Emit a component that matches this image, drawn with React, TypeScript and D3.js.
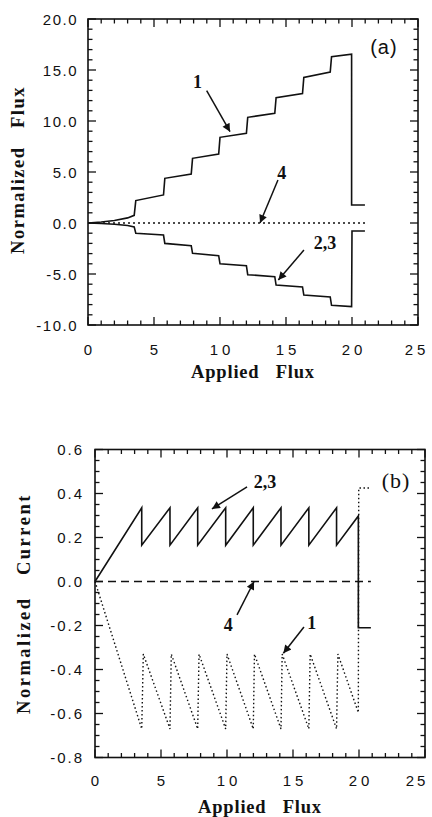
import * as d3 from "d3";

// ---- panel (a): normalized flux vs applied flux ----
const fluxCurve1X = [0, 1, 2, 3, 3.5, 3.62, 5.72, 5.82, 7.82, 7.92, 9.9, 10.0, 12.0, 12.1, 14.15, 14.25, 16.25, 16.35, 18.35, 18.45, 19.97, 19.97, 20.98];
const fluxCurve1Y = [0, 0.1, 0.25, 0.5, 0.75, 2.2, 2.75, 4.38, 4.8, 6.34, 6.76, 8.4, 8.8, 10.36, 10.75, 12.28, 12.7, 14.28, 14.8, 16.3, 16.55, 1.76, 1.76];

const fluxCurve23X = [0, 1, 2, 3, 3.5, 3.62, 5.72, 5.82, 7.82, 7.92, 9.9, 10.0, 12.0, 12.1, 14.15, 14.25, 16.25, 16.35, 18.35, 18.45, 19.97, 20.0, 20.98];
const fluxCurve23Y = [0, -0.05, -0.12, -0.25, -0.38, -1.0, -1.18, -2.0, -2.22, -2.97, -3.2, -4.0, -4.18, -5.07, -5.26, -6.08, -6.27, -7.06, -7.25, -8.07, -8.2, -0.78, -0.78];

const fluxCurve4X = [0, 21];
const fluxCurve4Y = [0, 0];

const fluxTicksY = [-10, -5, 0, 5, 10, 15, 20];
const fluxTicksX = [0, 5, 10, 15, 20, 25];

// ---- panel (b): normalized current vs applied flux ----
const curCurve23X = [0, 3.54, 3.54, 5.68, 5.68, 7.78, 7.78, 9.9, 9.9, 11.99, 11.99, 14.09, 14.09, 16.2, 16.2, 18.3, 18.3, 19.95, 19.95, 20.9];
const curCurve23Y = [0, 0.335, 0.165, 0.335, 0.165, 0.335, 0.165, 0.335, 0.165, 0.335, 0.165, 0.335, 0.165, 0.335, 0.165, 0.335, 0.165, 0.298, -0.21, -0.21];

const curCurve1X = [0, 3.54, 3.66, 5.68, 5.78, 7.78, 7.88, 9.9, 10.0, 11.99, 12.08, 14.09, 14.18, 16.2, 16.3, 18.3, 18.4, 19.95, 19.98, 20.9];
const curCurve1Y = [0, -0.67, -0.33, -0.67, -0.33, -0.67, -0.33, -0.67, -0.33, -0.67, -0.33, -0.67, -0.33, -0.67, -0.33, -0.67, -0.33, -0.596, 0.425, 0.425];

const curCurve4X = [0, 20.9];
const curCurve4Y = [0, 0];

const curTicksY = [-0.8, -0.6, -0.4, -0.2, 0, 0.2, 0.4, 0.6];
const curTicksX = [0, 5, 10, 15, 20, 25];

const INK = "#111";
const SERIF = "'Liberation Serif', 'Times New Roman', serif";
const SANS = "'Liberation Sans', Arial, sans-serif";

type Pt = [number, number];
const zipPts = (xs: number[], ys: number[]): Pt[] => xs.map((x, i) => [x, ys[i]]);

function Frame({ x, y, w, h, minorX, minorY, majorX, majorY }: any) {
  const out: any[] = [];
  const tick = (key: string, x1: number, y1: number, x2: number, y2: number) =>
    out.push(<line key={key} x1={x1} y1={y1} x2={x2} y2={y2} stroke={INK} strokeWidth={1.3} />);
  minorX.forEach((v: number, i: number) => {
    const big = majorX.some((m: number) => Math.abs(m - v) < 1e-6);
    const len = big ? 8 : 4.5;
    const px = x(v);
    tick("bx" + i, px, y.range()[0], px, y.range()[0] - len);
    tick("tx" + i, px, y.range()[1], px, y.range()[1] + len);
  });
  minorY.forEach((v: number, i: number) => {
    const big = majorY.some((m: number) => Math.abs(m - v) < 1e-6);
    const len = big ? 8 : 4.5;
    const py = y(v);
    tick("ly" + i, x.range()[0], py, x.range()[0] + len, py);
    tick("ry" + i, x.range()[1], py, x.range()[1] - len, py);
  });
  return (
    <g>
      <rect x={x.range()[0]} y={y.range()[1]} width={w} height={h} fill="none" stroke={INK} strokeWidth={1.6} />
      {out}
    </g>
  );
}

function Arrow({ x1, y1, x2, y2, id }: any) {
  return <line x1={x1} y1={y1} x2={x2} y2={y2} stroke={INK} strokeWidth={1.5} markerEnd={`url(#${id})`} />;
}

export default function App() {
  // panel (a) geometry
  const aLeft = 88, aTop = 19, aW = 330, aH = 306;
  const xa = d3.scaleLinear().domain([0, 25]).range([aLeft, aLeft + aW]);
  const ya = d3.scaleLinear().domain([-10, 20]).range([aTop + aH, aTop]);
  const lineA = d3.line<Pt>().x((d) => xa(d[0])).y((d) => ya(d[1]));

  // panel (b) geometry
  const bLeft = 95, bTop = 449.5, bW = 330, bH = 308;
  const xb = d3.scaleLinear().domain([0, 25]).range([bLeft, bLeft + bW]);
  const yb = d3.scaleLinear().domain([-0.8, 0.6]).range([bTop + bH, bTop]);
  const lineB = d3.line<Pt>().x((d) => xb(d[0])).y((d) => yb(d[1]));

  const minorXa = d3.range(0, 25.01, 1);
  const minorYa = d3.range(-10, 20.01, 1);
  const minorXb = d3.range(0, 25.01, 1);
  const minorYb = d3.range(-16, 12.01, 1).map((k) => k * 0.05);

  const numLabel = { fontFamily: SANS, fontSize: 15, fill: INK };
  const titleStyle: any = { fontFamily: SERIF, fontSize: 18.5, fontWeight: "bold", fill: INK, whiteSpace: "pre" };
  const noteStyle: any = { fontFamily: SERIF, fontSize: 18, fontWeight: "bold", fill: INK };

  return (
    <svg width={432} height={817} style={{ position: "absolute", left: 0, top: 0, background: "#fff" }}>
      <defs>
        <marker id="ah" viewBox="0 0 10 10" refX="10" refY="5" markerWidth="10" markerHeight="8" markerUnits="userSpaceOnUse" orient="auto">
          <path d="M0,0 L10,5 L0,10 z" fill={INK} />
        </marker>
      </defs>

      {/* ---------- panel (a) ---------- */}
      <Frame x={xa} y={ya} w={aW} h={aH} minorX={minorXa} minorY={minorYa} majorX={fluxTicksX} majorY={fluxTicksY} />
      {fluxTicksY.map((v) => (
        <text key={"ya" + v} x={aLeft - 10} y={ya(v) + 5.5} textAnchor="end" letterSpacing={1.5} style={numLabel}>
          {v.toFixed(1)}
        </text>
      ))}
      {fluxTicksX.map((v) => (
        <text key={"xa" + v} x={v === 25 ? xa(v) - 1 : xa(v) + 2} y={ya(-10) + 30} textAnchor="middle" letterSpacing={4} style={numLabel}>
          {v}
        </text>
      ))}
      <path d={lineA(zipPts(fluxCurve1X, fluxCurve1Y)) || ""} fill="none" stroke={INK} strokeWidth={1.6} />
      <path d={lineA(zipPts(fluxCurve23X, fluxCurve23Y)) || ""} fill="none" stroke={INK} strokeWidth={1.6} />
      <path d={lineA(zipPts(fluxCurve4X, fluxCurve4Y)) || ""} fill="none" stroke={INK} strokeWidth={1.3} strokeDasharray="2,3" />

      <text x={xa(8.29)} y={ya(13.85) + 6} textAnchor="middle" style={noteStyle}>1</text>
      <Arrow id="ah" x1={xa(8.99)} y1={ya(12.97)} x2={xa(10.76)} y2={ya(8.95)} />
      <text x={xa(14.67)} y={ya(4.87) + 6} textAnchor="middle" style={noteStyle}>4</text>
      <Arrow id="ah" x1={xa(14.39)} y1={ya(4.22)} x2={xa(13.03)} y2={ya(0)} />
      <text x={xa(17.95)} y={ya(-1.99) + 6} textAnchor="middle" style={noteStyle}>2,3</text>
      <Arrow id="ah" x1={xa(16.36)} y1={ya(-2.65)} x2={xa(14.42)} y2={ya(-5.59)} />
      <text x={xa(22.42)} y={ya(17.25) + 7} textAnchor="middle" letterSpacing={1} style={{ fontFamily: SANS, fontSize: 20, fill: INK }}>(a)</text>

      <text x={(aLeft + aLeft + aW) / 2} y={ya(-10) + 53} textAnchor="middle" letterSpacing={0.8} style={titleStyle}>
        {"Applied   Flux"}
      </text>
      <text transform={`translate(24, ${ya(5) - 2}) rotate(-90)`} textAnchor="middle" letterSpacing={1.5} style={titleStyle}>
        {"Normalized   Flux"}
      </text>

      {/* ---------- panel (b) ---------- */}
      <Frame x={xb} y={yb} w={bW} h={bH} minorX={minorXb} minorY={minorYb} majorX={curTicksX} majorY={curTicksY} />
      {curTicksY.map((v) => (
        <text key={"yb" + v} x={bLeft - 11} y={yb(v) + 5.5} textAnchor="end" letterSpacing={2} style={numLabel}>
          {v.toFixed(1)}
        </text>
      ))}
      {curTicksX.map((v) => (
        <text key={"xb" + v} x={v === 25 ? xb(v) - 8 : xb(v) + 2} y={yb(-0.8) + 28} textAnchor="middle" letterSpacing={v === 25 ? 3 : 4} style={numLabel}>
          {v}
        </text>
      ))}
      <path d={lineB(zipPts(curCurve23X, curCurve23Y)) || ""} fill="none" stroke={INK} strokeWidth={1.6} />
      <path d={lineB(zipPts(curCurve1X, curCurve1Y)) || ""} fill="none" stroke={INK} strokeWidth={1.4} strokeDasharray="1.5,2.5" />
      <path d={lineB(zipPts(curCurve4X, curCurve4Y)) || ""} fill="none" stroke={INK} strokeWidth={1.3} strokeDasharray="8,5" />

      <text x={xb(12.88)} y={yb(0.454) + 6} textAnchor="middle" style={noteStyle}>2,3</text>
      <Arrow id="ah" x1={xb(11.52)} y1={yb(0.43)} x2={xb(8.86)} y2={yb(0.33)} />
      <text x={xb(10.1)} y={yb(-0.198) + 6} textAnchor="middle" style={noteStyle}>4</text>
      <Arrow id="ah" x1={xb(10.76)} y1={yb(-0.152)} x2={xb(12.05)} y2={yb(0)} />
      <text x={xb(16.42)} y={yb(-0.19) + 6} textAnchor="middle" style={noteStyle}>1</text>
      <Arrow id="ah" x1={xb(15.83)} y1={yb(-0.207)} x2={xb(14.27)} y2={yb(-0.326)} />
      <text x={xb(22.8)} y={yb(0.457) + 7} textAnchor="middle" letterSpacing={1} style={{ fontFamily: SERIF, fontSize: 22, fill: INK }}>(b)</text>

      <text x={(bLeft + bLeft + bW) / 2} y={yb(-0.8) + 55} textAnchor="middle" letterSpacing={0.8} style={titleStyle}>
        {"Applied   Flux"}
      </text>
      <text transform={`translate(30, ${(bTop + bTop + bH) / 2}) rotate(-90)`} textAnchor="middle" letterSpacing={2.5} style={titleStyle}>
        {"Normalized   Current"}
      </text>
    </svg>
  );
}
